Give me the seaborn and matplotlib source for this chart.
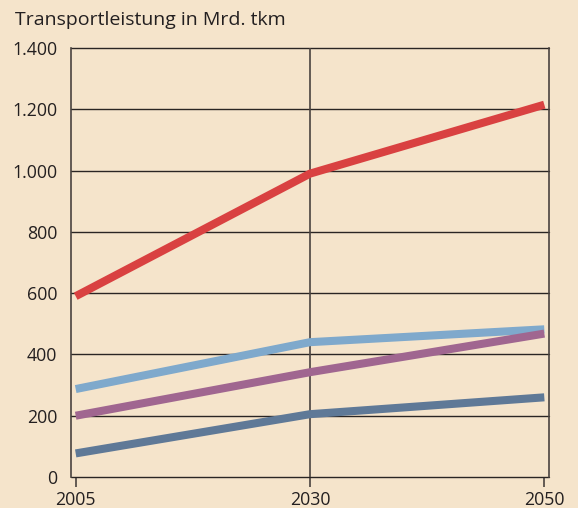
import pandas as pd
import numpy as np
import matplotlib.pyplot as plt
import seaborn as sns

# Daten
jahre = ["2005", "2030", "2050"]
strasse = [590, 990, 1215]
schiene = [287, 440, 482]
binnenschiff = [200, 342, 468]
rohrleitung = [77, 205, 260]

farben = ["#d94141", "#7fa9cc", "#a06690", "#5f7997"]
serien = {"Straße": strasse, "Schiene": schiene,
          "Binnenschiff": binnenschiff, "Rohrleitung": rohrleitung}

df = pd.DataFrame([
    {"pos": i, "jahr": j, "serie": name, "wert": v}
    for name, werte in serien.items()
    for i, (j, v) in enumerate(zip(jahre, werte))
])

sns.set_theme(style="white")
plt.rcParams["font.family"] = ["Open Sans", "DejaVu Sans"]

bg = "#f5e4cb"
fig = plt.figure(figsize=(5.78, 5.08), dpi=100, facecolor=bg)
ax = fig.add_axes([71 / 578, 31 / 508, 478 / 578, 429 / 508])
ax.set_facecolor(bg)

sns.lineplot(data=df, x="pos", y="wert", hue="serie", palette=farben,
             linewidth=5.8, legend=False, ax=ax, zorder=3)
for line in ax.get_lines():
    line.set_solid_capstyle("butt")
    line.set_solid_joinstyle("round")

ax.set_xlim(-0.02, 2.02)
ax.set_ylim(0, 1400)

# Gitter
yticks = np.arange(0, 1401, 200)
for y in yticks:
    ax.axhline(y, color="#2a2523", linewidth=1.0, zorder=1, clip_on=False)
ax.axvline(1, color="#4a433f", linewidth=1.2, zorder=1)

ax.set_yticks(yticks)
ax.set_yticklabels([f"{y:,}".replace(",", ".") for y in yticks])
ax.set_xticks([0, 1, 2])
ax.set_xticklabels(jahre)
ax.tick_params(axis="y", length=0, pad=10, labelsize=12.8, labelcolor="#231f20")
ax.tick_params(axis="x", length=7, width=1.2, color="#4a433f", direction="out",
               pad=3, labelsize=12.8, labelcolor="#231f20", bottom=True)

for side in ["top", "bottom"]:
    ax.spines[side].set_visible(False)
for side in ["left", "right"]:
    ax.spines[side].set_color("#4a433f")
    ax.spines[side].set_linewidth(1.2)

ax.set_xlabel("")
ax.set_ylabel("")

fig.text(15 / 578, 1 - 20 / 508, "Transportleistung in Mrd. tkm",
         fontsize=14, color="#231f20", va="center", ha="left")

fig.savefig("out.png", dpi=100, facecolor=bg)
